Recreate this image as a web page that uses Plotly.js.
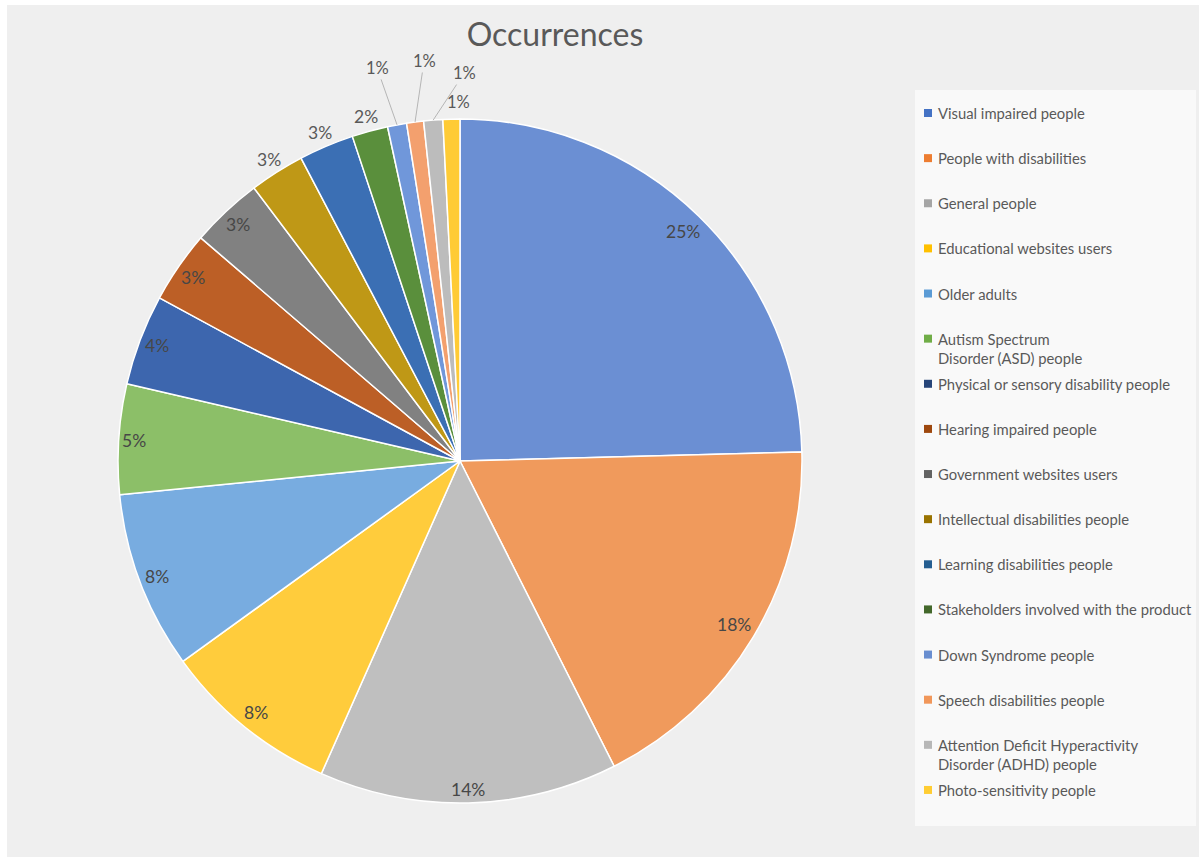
<!DOCTYPE html>
<html>
<head>
<meta charset="utf-8">
<script src="https://cdn.plot.ly/plotly-3.0.1.min.js"></script>
<style>html,body{margin:0;padding:0;background:#fff;}#chart{width:1199px;height:862px;}</style>
</head>
<body>
<div id="chart"></div>
<script>
// ---- data ----
const categories = [
  "Visual impaired people",
  "People with disabilities",
  "General people",
  "Educational websites users",
  "Older adults",
  "Autism Spectrum<br>Disorder (ASD) people",
  "Physical or sensory disability people",
  "Hearing impaired people",
  "Government websites users",
  "Intellectual disabilities people",
  "Learning disabilities people",
  "Stakeholders involved with the product",
  "Down Syndrome people",
  "Speech disabilities people",
  "Attention Deficit Hyperactivity<br>Disorder (ADHD) people",
  "Photo-sensitivity people"
];
const shares = [24.6, 18.0, 14.1, 8.4, 8.4, 5.2, 4.3, 3.4, 3.4, 2.6, 2.6, 1.7, 0.9, 0.8, 0.9, 0.8];
const titleText = "Occurrences";

// ---- styling ----
const sliceColors = ["#6b8fd3","#f09a5c","#bfbfbf","#ffcc3c","#78ace0","#8cbf68","#3d66ae","#bc5f26",
                     "#818181","#bf9816","#3b6fb4","#5a8f3c","#7097da","#f3a06e","#bcbcbc","#ffcb35"];
const legendColors = ["#4472c4","#ed7d31","#a5a5a5","#ffc000","#5b9bd5","#70ad47","#264478","#9e480e",
                      "#636363","#997300","#255e91","#43682b","#698ed0","#f1975a","#b7b7b7","#ffcd33"];

const W = 1199, H = 862;
const pieBox = {x0: 118, x1: 802, y0: 119, y1: 803};   // px
const CX = (pieBox.x0 + pieBox.x1) / 2, CY = (pieBox.y0 + pieBox.y1) / 2;
const R = Math.min(pieBox.x1 - pieBox.x0, pieBox.y1 - pieBox.y0) / 2;
const px = x => x / W, py = y => 1 - y / H;
const FONT = "Lato, 'Open Sans', sans-serif";

// label placement style: number of slices drawn inside, leader-line offsets for tiny slices
const insideCount = 9;
const leaderOffsets = {12: [-20, -57, true], 13: [9, -61, true], 14: [31, -47, true], 15: [7, -17, false]};

const total = shares.reduce((a, b) => a + b, 0);
const annotations = [];
let cum = 0;
shares.forEach((v, i) => {
  const mid = (cum + v / 2) / total * 2 * Math.PI;
  cum += v;
  const pct = Math.round(v / total * 100) + "%";
  const s = Math.sin(mid), c = Math.cos(mid);
  const lab = {text: pct, font: {family: FONT, size: 17.5, color: "#474747"},
               xref: "paper", yref: "paper", showarrow: false, xanchor: "center", yanchor: "middle"};
  if (i < insideCount) {
    const hw = pct.length * 5.5, hh = 9;
    const d = R - 4 - (Math.abs(s) * hw + Math.abs(c) * hh);
    lab.x = px(CX + d * s); lab.y = py(CY - d * c);
  } else if (leaderOffsets[i]) {
    const [ax, ay, line] = leaderOffsets[i];
    const hx = CX + R * s, hy = CY - R * c;
    lab.font.size = 16.5;
    if (line) {
      Object.assign(lab, {x: px(hx), y: py(hy), showarrow: true, arrowhead: 0, ax: ax, ay: ay,
                          arrowwidth: 0.8, arrowcolor: "#a6a6a6", standoff: 0, startstandoff: 0});
    } else {
      lab.x = px(hx + ax); lab.y = py(hy + ay);
    }
    lab.font.color = "#595959";
  } else {
    const d = R + 15;
    lab.x = px(CX + d * s); lab.y = py(CY - d * c);
    lab.font.color = "#595959";
  }
  annotations.push(lab);
});

// custom legend
const legTop = 113, legStep = 45.13, legTextX = 936, legSq = 8, legSqX = 924;
const shapes = [
  {type: "rect", xref: "paper", yref: "paper", x0: px(7), x1: px(1199), y0: py(857), y1: py(5),
   fillcolor: "#efefef", line: {width: 0}, layer: "below"},
  {type: "rect", xref: "paper", yref: "paper", x0: px(915), x1: px(1196), y0: py(826), y1: py(90),
   fillcolor: "#f9f9f9", line: {width: 0}, layer: "below"}
];
categories.forEach((name, i) => {
  const ry = legTop + i * legStep;
  shapes.push({type: "rect", xref: "paper", yref: "paper",
    x0: px(legSqX), x1: px(legSqX + legSq), y0: py(ry + legSq / 2), y1: py(ry - legSq / 2),
    fillcolor: legendColors[i], line: {width: 0}, layer: "above"});
  const multi = name.indexOf("<br>") >= 0;
  annotations.push({text: name, xref: "paper", yref: "paper", x: px(legTextX), y: py(multi ? ry - 10.5 : ry),
    xanchor: "left", yanchor: multi ? "top" : "middle", align: "left", showarrow: false,
    font: {family: FONT, size: 14.8, color: "#595959"}});
});

const trace = {
  type: "pie", labels: categories, values: shares, sort: false, direction: "clockwise", rotation: 0,
  marker: {colors: sliceColors, line: {color: "#ffffff", width: 1.5}},
  textinfo: "none", hoverinfo: "label+percent", showlegend: false,
  domain: {x: [px(pieBox.x0), px(pieBox.x1)], y: [py(pieBox.y1), py(pieBox.y0)]}
};

const layout = {
  width: W, height: H, margin: {l: 0, r: 0, t: 0, b: 0},
  paper_bgcolor: "#ffffff", showlegend: false,
  title: {text: titleText, x: px(555), xanchor: "center", y: py(35), yanchor: "middle",
          font: {family: FONT, size: 32, color: "#595959"}},
  annotations: annotations, shapes: shapes
};

Plotly.newPlot("chart", [trace], layout, {displayModeBar: false, staticPlot: true});
</script>
</body>
</html>
